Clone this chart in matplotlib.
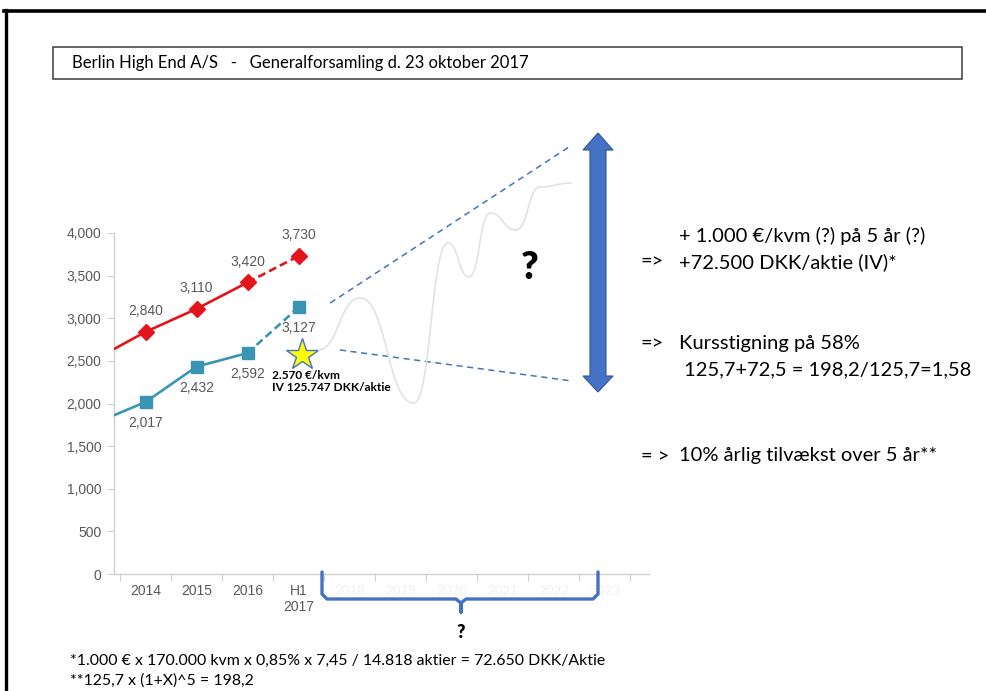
import matplotlib
matplotlib.use("Agg")
import matplotlib.pyplot as plt
from matplotlib.lines import Line2D
from matplotlib.patches import Rectangle, Polygon, PathPatch
from matplotlib.path import Path
from matplotlib.ticker import StrMethodFormatter

W, H = 986, 691

# categories on the x axis (the future years are only drawn as faint labels)
periods = ["2014", "2015", "2016", "H1\n2017"]
future_periods = ["2018", "2019", "2020", "2021", "2022", "2023"]

# price per sqm (red) and intrinsic value per share (teal); the 2013 value only feeds the clipped lead-in line
price_kvm = [2840, 3110, 3420, 3730]
price_kvm_2013 = 2514
iv_kvm = [2017, 2432, 2592, 3127]
iv_kvm_2013 = 1766

# current valuation marked with the star
star_value = 2570
star_label = "2.570 €/kvm\nIV 125.747 DKK/aktie"

title = "Berlin High End A/S   -   Generalforsamling d. 23 oktober 2017"
notes_right = [
    ("", "+ 1.000 €/kvm (?) på 5 år (?)", 236),
    ("=>", "+72.500 DKK/aktie (IV)*", 262),
    ("=>", "Kursstigning på 58%", 344),
    ("", " 125,7+72,5 = 198,2/125,7=1,58", 370),
    ("= >", "10% årlig tilvækst over 5 år**", 456),
]
footnotes = ["*1.000 € x 170.000 kvm x 0,85% x 7,45 / 14.818 aktier = 72.650 DKK/Aktie",
             "**125,7 x (1+X)^5 = 198,2"]

RED = "#e3141c"
TEAL = "#3a95b5"
BLUE = "#4472c4"
GREY = "#595959"
SANS = ["Lato", "DejaVu Sans"]


def fx(x):
    return x / W


def fy(y):
    return 1 - y / H


fig = plt.figure(figsize=(W / 100, H / 100), dpi=100)
fig.patch.set_facecolor("white")

# page frame
fig.add_artist(Line2D([fx(4), fx(986)], [fy(11), fy(11)], color="black", lw=2.6))
fig.add_artist(Line2D([fx(6), fx(6)], [fy(10), fy(691)], color="black", lw=2.4))

# header box
fig.add_artist(Rectangle((fx(53), fy(79)), fx(962) - fx(53), fy(47) - fy(79),
                         transform=fig.transFigure, fill=False, ec="#3a3a3a", lw=1.1))
fig.text(fx(72), fy(63), title, family=SANS, fontsize=12, va="center", ha="left", color="black")

# chart area
ax = fig.add_axes([fx(114), fy(574), fx(649) - fx(114), fy(233) - fy(574)])
ax.set_facecolor("none")
ax.set_xlim(-0.618, 9.87)
ax.set_ylim(0, 4000)
for side in ["top", "right"]:
    ax.spines[side].set_visible(False)
for side in ["left", "bottom"]:
    ax.spines[side].set_color("#d0d0d0")
    ax.spines[side].set_linewidth(1.0)
ax.yaxis.set_major_formatter(StrMethodFormatter("{x:,.0f}"))
ax.set_yticks(range(0, 4001, 500))
ax.tick_params(axis="y", colors="#d0d0d0", labelcolor=GREY, labelsize=10, length=5, pad=4)
for lbl in ax.get_yticklabels():
    lbl.set_family("Liberation Sans")

ax.set_xticks([k - 0.5 for k in range(11)])
ax.set_xticklabels([])
ax.tick_params(axis="x", colors="#d0d0d0", length=5)
for i, p in enumerate(periods):
    ax.text(i, -120, p, ha="center", va="top", fontsize=10, color=GREY,
            family="Liberation Sans", linespacing=1.15)
for i, p in enumerate(future_periods):
    ax.text(len(periods) + i, -120, p, ha="center", va="top", fontsize=10, color="#f1f1f1",
            family="Liberation Sans")

xs = list(range(len(periods)))

# red series: solid through 2016, dashed to H1 2017
ax.plot([-1] + xs[:3], [price_kvm_2013] + price_kvm[:3], color=RED, lw=1.9, zorder=3)
ax.plot(xs[2:], price_kvm[2:], color=RED, lw=1.9, ls=(0, (3, 1.6)), zorder=3)
ax.plot(xs, price_kvm, ls="none", marker="D", ms=8, color=RED, mec=RED, zorder=4)
for x, v in zip(xs, price_kvm):
    ax.annotate(f"{v:,}", (x, v), xytext=(0, 15), textcoords="offset points",
                ha="center", va="center", fontsize=10, color=GREY, family="Liberation Sans")

# teal series
ax.plot([-1] + xs[:3], [iv_kvm_2013] + iv_kvm[:3], color=TEAL, lw=1.9, zorder=3)
ax.plot(xs[2:], iv_kvm[2:], color=TEAL, lw=1.9, ls=(0, (3, 1.6)), zorder=3)
ax.plot(xs, iv_kvm, ls="none", marker="s", ms=9, color=TEAL, mec=TEAL, zorder=4)
for x, v in zip(xs, iv_kvm):
    ax.annotate(f"{v:,}", (x, v), xytext=(0, -15), textcoords="offset points",
                ha="center", va="center", fontsize=10, color=GREY, family="Liberation Sans")

# star for the current valuation
ax.plot([3.07], [star_value], marker="*", ms=24, color="#ffff00", mec=BLUE, mew=1.0,
        zorder=5, clip_on=False)
ax.annotate(star_label, (3.07, star_value), xytext=(-22, -11), textcoords="offset points",
            ha="left", va="top", fontsize=8.6, fontweight="bold", family=SANS,
            linespacing=1.1, color="black")

# scenario funnel (dashed) and a speculative path
ax.plot([3.62, 8.36], [3179, 5032], color=BLUE, lw=1.1, ls=(0, (4, 3)), clip_on=False)
ax.plot([3.81, 8.36], [2628, 2264], color=BLUE, lw=1.1, ls=(0, (4, 3)), clip_on=False)

wiggle = [(318, 350), (360, 298), (414, 403), (448, 243), (469, 277), (490, 213),
          (516, 230), (540, 187), (572, 183)]
verts = [(fx(wiggle[0][0]), fy(wiggle[0][1]))]
codes = [Path.MOVETO]
for (x0, y0), (x1, y1) in zip(wiggle[:-1], wiggle[1:]):
    d = (x1 - x0) * 0.5
    verts += [(fx(x0 + d), fy(y0)), (fx(x1 - d), fy(y1)), (fx(x1), fy(y1))]
    codes += [Path.CURVE4] * 3
fig.add_artist(PathPatch(Path(verts, codes), transform=fig.transFigure, fill=False,
                         ec="#e2e2e2", lw=1.2))

fig.text(fx(530), fy(268), "?", fontsize=27, fontweight="heavy", family=SANS,
         ha="center", va="center")

# double-headed arrow
arrow_px = [(598, 133), (613, 150), (606, 150), (606, 376), (613, 376), (598, 392),
            (583, 376), (590, 376), (590, 150), (583, 150)]
fig.add_artist(Polygon([(fx(x), fy(y)) for x, y in arrow_px], closed=True,
                       transform=fig.transFigure, fc=BLUE, ec="#2f5597", lw=0.8))

# brace under the forecast period
brace_px = [(322, 572), (322, 594), (327, 599), (456, 599), (461, 603), (461, 612),
            (461, 603), (466, 599), (593, 599), (598, 594), (598, 572)]
fig.add_artist(Line2D([fx(x) for x, _ in brace_px], [fy(y) for _, y in brace_px],
                      color=BLUE, lw=2.4, solid_joinstyle="round", solid_capstyle="round"))
fig.text(fx(461), fy(632), "?", fontsize=13, fontweight="heavy", family=SANS,
         ha="center", va="center")

# commentary on the right
for arrow, text, y in notes_right:
    if arrow:
        fig.text(fx(641), fy(y), arrow, fontsize=14.5, family=SANS, ha="left", va="center")
    fig.text(fx(679), fy(y), text, fontsize=14.5, family=SANS, ha="left", va="center")

for i, note in enumerate(footnotes):
    fig.text(fx(70), fy(661 + 20 * i), note, fontsize=11.4, family=SANS, ha="left", va="center")

fig.savefig("out.png", dpi=100)
